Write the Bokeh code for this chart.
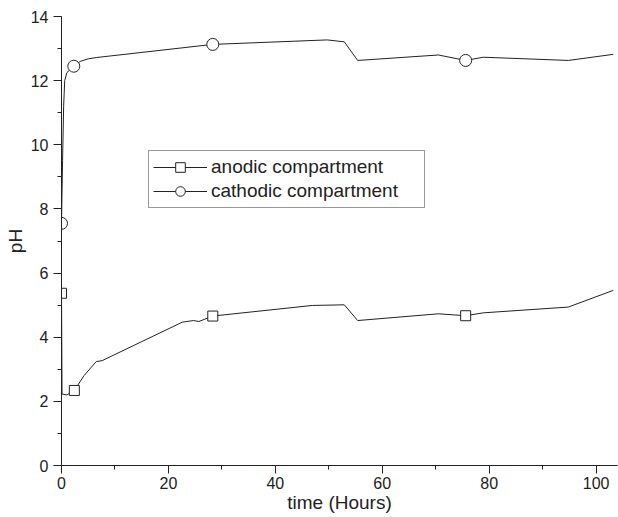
from bokeh.plotting import figure
from bokeh.models import Range1d, Legend, LegendItem, SingleIntervalTicker
from bokeh.embed import file_html
from bokeh.resources import INLINE

# anodic compartment (line) and its marked points
anodic_hours = [0.0, 0.1, 1.0, 2.4, 4.2, 6.5, 7.6, 22.6, 24.7, 25.7, 28.3, 46.9, 52.9, 55.4, 70.5, 75.6, 78.9, 94.8, 103.2]
anodic_ph = [5.37, 2.23, 2.2, 2.34, 2.8, 3.24, 3.27, 4.47, 4.52, 4.49, 4.66, 4.99, 5.01, 4.52, 4.73, 4.67, 4.76, 4.94, 5.46]
anodic_mark_hours = [0.0, 2.4, 28.3, 75.6]
anodic_mark_ph = [5.37, 2.34, 4.66, 4.67]

# cathodic compartment
cathodic_hours = [0.0, 0.2, 0.4, 0.6, 1.0, 2.3, 3.5, 5.0, 6.5, 28.3, 49.7, 52.9, 55.4, 70.5, 75.6, 78.9, 94.8, 103.2]
cathodic_ph = [7.55, 9.5, 11.2, 12.0, 12.25, 12.45, 12.6, 12.68, 12.72, 13.13, 13.27, 13.21, 12.63, 12.8, 12.63, 12.73, 12.63, 12.82]
cathodic_mark_hours = [0.0, 2.3, 28.3, 75.6]
cathodic_mark_ph = [7.55, 12.45, 13.13, 12.63]

FONT = "Liberation Sans"
INK = "#222222"

p = figure(width=618, height=517, output_backend="svg", toolbar_location=None,
           x_range=Range1d(0, 104), y_range=Range1d(0, 14),
           min_border_left=61, min_border_right=1, min_border_top=16, min_border_bottom=52)
p.outline_line_color = None
p.xgrid.visible = False
p.ygrid.visible = False

l1 = p.line(anodic_hours, anodic_ph, line_color=INK, line_width=1)
m1 = p.scatter(anodic_mark_hours, anodic_mark_ph, marker="square", size=10,
               fill_color="white", line_color=INK, line_width=1)
l2 = p.line(cathodic_hours, cathodic_ph, line_color=INK, line_width=1)
m2 = p.scatter(cathodic_mark_hours, cathodic_mark_ph, marker="circle", size=12,
               fill_color="white", line_color=INK, line_width=1)

p.xaxis.ticker = SingleIntervalTicker(interval=20, num_minor_ticks=2)
p.yaxis.ticker = SingleIntervalTicker(interval=2, num_minor_ticks=2)
p.xaxis.axis_label = "time (Hours)"
p.yaxis.axis_label = "pH"
for ax in (p.xaxis, p.yaxis):
    ax.axis_line_color = INK
    ax.major_tick_line_color = INK
    ax.minor_tick_line_color = INK
    ax.major_tick_in = 0
    ax.minor_tick_in = 0
    ax.major_tick_out = 8
    ax.minor_tick_out = 4
    ax.major_label_text_font = FONT
    ax.major_label_text_font_size = "16px"
    ax.major_label_text_color = INK
    ax.axis_label_text_font = FONT
    ax.axis_label_text_font_size = "19px"
    ax.axis_label_text_font_style = "normal"
    ax.axis_label_text_color = INK
p.xaxis.major_label_standoff = 3
p.xaxis.axis_label_standoff = 0
p.yaxis.major_label_standoff = 5
p.yaxis.axis_label_standoff = 2

legend = Legend(items=[
    LegendItem(label="anodic compartment", renderers=[l1, m1]),
    LegendItem(label="cathodic compartment", renderers=[l2, m2]),
], location=(87, 257))
legend.label_text_font = FONT
legend.label_text_font_size = "19px"
legend.label_text_color = INK
legend.border_line_color = "#333333"
legend.border_line_width = 1
legend.background_fill_alpha = 1
legend.glyph_width = 54
legend.glyph_height = 24
legend.label_height = 24
legend.label_width = 209
legend.label_standoff = 4
legend.spacing = 0
legend.padding = 4
legend.margin = 0
p.add_layout(legend, "center")

open("out.html", "w").write(file_html(p, INLINE))
